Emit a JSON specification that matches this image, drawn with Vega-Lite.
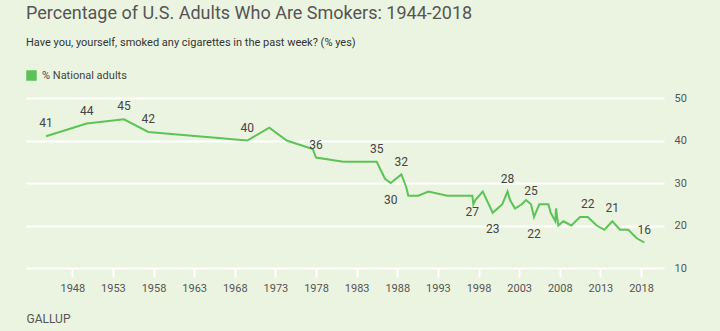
{
  "$schema": "https://vega.github.io/schema/vega-lite/v6.json",
  "width": 638,
  "height": 170,
  "autosize": {"type": "none"},
  "padding": {"left": 26, "top": 98, "right": 56, "bottom": 63},
  "background": "#EBF4E0",
  "title": {
    "text": "Percentage of U.S. Adults Who Are Smokers: 1944-2018",
    "subtitle": "Have you, yourself, smoked any cigarettes in the past week? (% yes)",
    "anchor": "start",
    "frame": "group",
    "font": "Roboto",
    "fontSize": 18,
    "fontWeight": "normal",
    "color": "#555555",
    "subtitleFont": "Roboto",
    "subtitleFontSize": 11,
    "subtitleColor": "#333333",
    "subtitlePadding": 14,
    "offset": 22
  },
  "config": {
    "view": {"stroke": null},
    "font": "Roboto"
  },
  "data": {
    "values": [
      {"year": 1944.76, "pct": 41, "lab": "above"},
      {"year": 1949.77, "pct": 44, "lab": "above"},
      {"year": 1954.36, "pct": 45, "lab": "above"},
      {"year": 1957.35, "pct": 42, "lab": "above"},
      {"year": 1969.54, "pct": 40, "lab": "above"},
      {"year": 1972.25, "pct": 43, "lab": ""},
      {"year": 1974.39, "pct": 40, "lab": ""},
      {"year": 1977.59, "pct": 38, "lab": ""},
      {"year": 1978.0, "pct": 36, "lab": "above"},
      {"year": 1981.36, "pct": 35, "lab": ""},
      {"year": 1983.4, "pct": 35, "lab": ""},
      {"year": 1985.47, "pct": 35, "lab": "above"},
      {"year": 1986.49, "pct": 31, "lab": ""},
      {"year": 1987.19, "pct": 30, "lab": "below"},
      {"year": 1988.5, "pct": 32, "lab": "above"},
      {"year": 1989.11, "pct": 29, "lab": ""},
      {"year": 1989.36, "pct": 27, "lab": ""},
      {"year": 1990.59, "pct": 27, "lab": ""},
      {"year": 1991.82, "pct": 28, "lab": ""},
      {"year": 1994.16, "pct": 27, "lab": ""},
      {"year": 1997.24, "pct": 27, "lab": "below"},
      {"year": 1997.36, "pct": 25, "lab": ""},
      {"year": 1997.61, "pct": 26, "lab": ""},
      {"year": 1998.52, "pct": 28, "lab": ""},
      {"year": 1999.75, "pct": 23, "lab": "below"},
      {"year": 2000.93, "pct": 25, "lab": ""},
      {"year": 2001.57, "pct": 28, "lab": "above"},
      {"year": 2001.88, "pct": 26, "lab": ""},
      {"year": 2002.49, "pct": 24, "lab": ""},
      {"year": 2003.32, "pct": 25, "lab": ""},
      {"year": 2003.85, "pct": 26, "lab": ""},
      {"year": 2004.46, "pct": 25, "lab": "above"},
      {"year": 2004.83, "pct": 22, "lab": "below"},
      {"year": 2005.48, "pct": 25, "lab": ""},
      {"year": 2006.59, "pct": 25, "lab": ""},
      {"year": 2006.89, "pct": 23, "lab": ""},
      {"year": 2007.45, "pct": 21, "lab": ""},
      {"year": 2007.54, "pct": 24, "lab": ""},
      {"year": 2007.82, "pct": 20, "lab": ""},
      {"year": 2008.44, "pct": 21, "lab": ""},
      {"year": 2009.42, "pct": 20, "lab": ""},
      {"year": 2010.49, "pct": 22, "lab": ""},
      {"year": 2011.44, "pct": 22, "lab": "above"},
      {"year": 2012.55, "pct": 20, "lab": ""},
      {"year": 2013.49, "pct": 19, "lab": ""},
      {"year": 2014.47, "pct": 21, "lab": "above"},
      {"year": 2015.42, "pct": 19, "lab": ""},
      {"year": 2016.44, "pct": 19, "lab": ""},
      {"year": 2017.47, "pct": 17, "lab": ""},
      {"year": 2018.41, "pct": 16, "lab": "above"}
    ]
  },
  "encoding": {
    "x": {
      "field": "year",
      "type": "quantitative",
      "scale": {"domain": [1942.3, 2020.83], "nice": false, "zero": false},
      "axis": {
        "values": [1948, 1953, 1958, 1963, 1968, 1973, 1978, 1983, 1988, 1993, 1998, 2003, 2008, 2013, 2018],
        "format": "d",
        "domain": false,
        "grid": false,
        "ticks": true,
        "tickColor": "#FFFFFF",
        "tickSize": 9,
        "tickWidth": 2,
        "labelFontSize": 11,
        "labelColor": "#555555",
        "labelPadding": 5,
        "title": "GALLUP",
        "titleAnchor": "start",
        "titleAlign": "left",
        "titleFontSize": 12,
        "titleFontWeight": "normal",
        "titleColor": "#555555",
        "titlePadding": 20
      }
    },
    "y": {
      "field": "pct",
      "type": "quantitative",
      "scale": {"domain": [10, 50], "nice": false, "zero": false},
      "axis": {
        "orient": "right",
        "values": [10, 20, 30, 40, 50],
        "domain": false,
        "ticks": false,
        "grid": true,
        "gridColor": "#FFFFFF",
        "gridWidth": 2,
        "gridOpacity": 1,
        "labelFontSize": 11,
        "labelColor": "#555555",
        "labelPadding": 10,
        "title": null
      }
    }
  },
  "layer": [
    {
      "mark": {"type": "line", "strokeWidth": 2},
      "encoding": {
        "color": {
          "datum": "% National adults",
          "type": "nominal",
          "scale": {"range": ["#5CC456"]},
          "legend": {
            "title": null,
            "orient": "none",
            "legendX": 0,
            "legendY": -28,
            "symbolType": "square",
            "symbolSize": 110,
            "labelFontSize": 11,
            "labelColor": "#444444",
            "labelOffset": 5,
            "encode": {
              "symbols": {
                "update": {
                  "fill": {"value": "#5CC456"},
                  "strokeWidth": {"value": 0}
                }
              }
            }
          }
        }
      }
    },
    {
      "transform": [{"filter": "datum.lab == 'above'"}],
      "mark": {"type": "text", "baseline": "middle", "dy": -13, "fontSize": 12, "color": "#444444"},
      "encoding": {"text": {"field": "pct", "type": "quantitative", "format": "d"}}
    },
    {
      "transform": [{"filter": "datum.lab == 'below'"}],
      "mark": {"type": "text", "baseline": "middle", "dy": 16.5, "fontSize": 12, "color": "#444444"},
      "encoding": {"text": {"field": "pct", "type": "quantitative", "format": "d"}}
    }
  ]
}
